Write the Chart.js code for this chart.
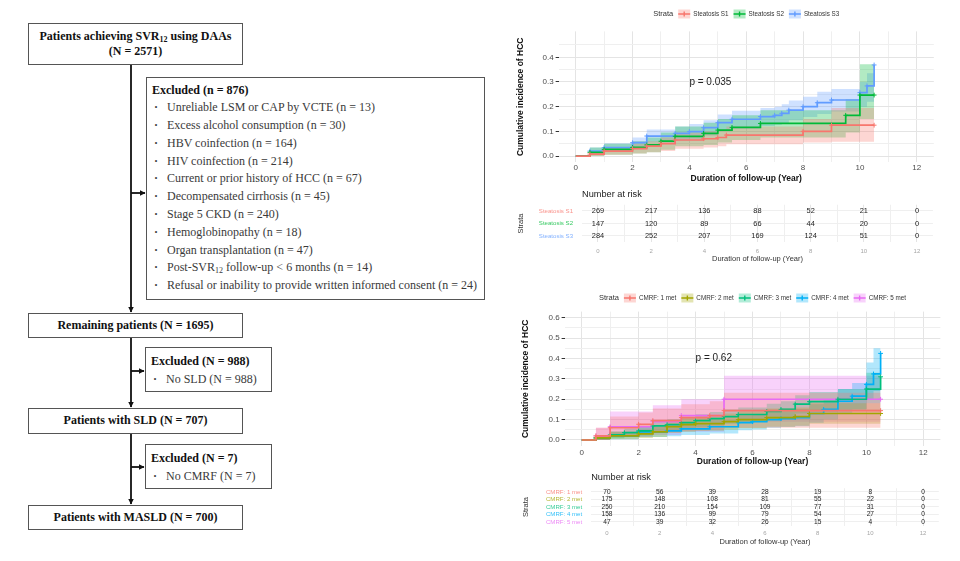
<!DOCTYPE html>
<html>
<head>
<meta charset="utf-8">
<script src="https://cdn.jsdelivr.net/npm/chart.js@4.4.1/dist/chart.umd.min.js"></script>
<style>
body { margin:0; background:#fff; width:960px; height:561px; position:relative; overflow:hidden; }
.box { position:absolute; box-sizing:border-box; border:1.5px solid #555; font-family:"Liberation Serif","Times New Roman",serif; font-size:12px; color:#111; }
.main { text-align:center; font-weight:bold; line-height:22px; }
.excl { padding-left:5px; line-height:17.8px; }
.excl .hd { font-weight:bold; }
.excl .it { position:relative; padding-left:15px; color:#3a3a3a; white-space:nowrap; }
.excl .it:before { content:"\00B7"; position:absolute; left:2px; font-weight:bold; }
sub { font-size:8px; line-height:0; vertical-align:-2px; }
canvas { position:absolute; }
</style>
</head>
<body>

<!-- flow chart -->
<svg style="position:absolute;left:0;top:0" width="510" height="561">
  <defs>
    <marker id="ah" markerWidth="6" markerHeight="6" refX="5.5" refY="3" orient="auto" markerUnits="userSpaceOnUse">
      <path d="M0,0 L6,3 L0,6 z" fill="#111"/>
    </marker>
  </defs>
  <g stroke="#111" stroke-width="1.8">
    <line x1="131" y1="65" x2="131" y2="312" marker-end="url(#ah)"/>
    <line x1="131" y1="193" x2="145" y2="193" marker-end="url(#ah)"/>
    <line x1="131" y1="338" x2="131" y2="407" marker-end="url(#ah)"/>
    <line x1="131" y1="371" x2="144" y2="371" marker-end="url(#ah)"/>
    <line x1="131" y1="434" x2="131" y2="504" marker-end="url(#ah)"/>
    <line x1="131" y1="467" x2="144" y2="467" marker-end="url(#ah)"/>
  </g>
</svg>

<div class="box main" style="left:28px;top:23px;width:215px;height:42px;line-height:15px;padding-top:5px">Patients achieving SVR<sub>12</sub> using DAAs<br>(N = 2571)</div>

<div class="box excl" style="left:146px;top:77px;width:339px;height:223px;padding-top:3.5px">
  <div class="hd">Excluded (n = 876)</div>
  <div class="it">Unreliable LSM or CAP by VCTE (n = 13)</div>
  <div class="it">Excess alcohol consumption (n = 30)</div>
  <div class="it">HBV coinfection (n = 164)</div>
  <div class="it">HIV coinfection (n = 214)</div>
  <div class="it">Current or prior history of HCC (n = 67)</div>
  <div class="it">Decompensated cirrhosis (n = 45)</div>
  <div class="it">Stage 5 CKD (n = 240)</div>
  <div class="it">Hemoglobinopathy (n = 18)</div>
  <div class="it">Organ transplantation (n = 47)</div>
  <div class="it">Post-SVR<sub>12</sub> follow-up &lt; 6 months (n = 14)</div>
  <div class="it">Refusal or inability to provide written informed consent (n = 24)</div>
</div>

<div class="box main" style="left:28px;top:313px;width:215px;height:25px">Remaining patients (N = 1695)</div>

<div class="box excl" style="left:145px;top:347px;width:127px;height:45px;padding-top:3.5px;line-height:18px">
  <div class="hd">Excluded (N = 988)</div>
  <div class="it">No SLD (N = 988)</div>
</div>

<div class="box main" style="left:28px;top:408px;width:215px;height:26px;line-height:23px">Patients with SLD (N = 707)</div>

<div class="box excl" style="left:145px;top:444px;width:127px;height:45px;padding-top:3.8px;line-height:18px">
  <div class="hd">Excluded (N = 7)</div>
  <div class="it">No CMRF (N = 7)</div>
</div>

<div class="box main" style="left:28px;top:505px;width:215px;height:25px">Patients with MASLD (N = 700)</div>

<!-- charts -->
<canvas id="km1" width="440" height="186" style="left:510px;top:0px"></canvas>
<canvas id="risk1" width="440" height="77" style="left:510px;top:188px"></canvas>
<canvas id="km2" width="440" height="184" style="left:510px;top:285px"></canvas>
<canvas id="risk2" width="440" height="79" style="left:510px;top:469px"></canvas>

<script>
var FONT = '"Liberation Sans", Arial, sans-serif';
Chart.defaults.font.family = FONT;

// ---------------- shared axis values ----------------
var xTicks = [0, 2, 4, 6, 8, 10, 12];
var xMinor = [1, 3, 5, 7, 9, 11];
var riskTimes = [0, 2, 4, 6, 8, 10, 12];

// ---------------- steatosis panel ----------------
var steatNames = ['Steatosis S1', 'Steatosis S2', 'Steatosis S3'];
var steatColors = ['#F8766D', '#00BA38', '#619CFF'];
var steatYMajor = [0, 0.1, 0.2, 0.3, 0.4];
var steatYMinor = [0.05, 0.15, 0.25, 0.35, 0.45];

var s1Time = [0, 0.5, 1.0, 2.0, 2.5, 3.0, 3.5, 4.5, 5.0, 5.3, 8.0, 9.0, 10.5];
var s1Est  = [0, 0.008, 0.02, 0.03, 0.04, 0.05, 0.065, 0.07, 0.075, 0.085, 0.1, 0.125, 0.125];
var s1Low  = [0, 0.0, 0.005, 0.01, 0.015, 0.02, 0.03, 0.035, 0.04, 0.048, 0.055, 0.058, 0.054];
var s1High = [0, 0.02, 0.035, 0.05, 0.06, 0.075, 0.095, 0.1, 0.11, 0.12, 0.15, 0.195, 0.195];

var s2Time = [0, 0.5, 1.0, 2.0, 2.5, 3.0, 3.5, 4.5, 5.0, 5.5, 6.5, 9.5, 10.0, 10.5];
var s2Est  = [0, 0.015, 0.027, 0.035, 0.045, 0.06, 0.08, 0.092, 0.105, 0.116, 0.132, 0.165, 0.247, 0.247];
var s2Low  = [0, 0.0, 0.005, 0.01, 0.015, 0.025, 0.04, 0.045, 0.055, 0.065, 0.075, 0.095, 0.15, 0.15];
var s2High = [0, 0.035, 0.05, 0.06, 0.075, 0.095, 0.12, 0.135, 0.15, 0.165, 0.185, 0.23, 0.372, 0.372];

var s3Time = [0, 0.5, 1.0, 2.0, 2.5, 3.5, 4.0, 4.5, 5.0, 5.5, 6.5, 7.0, 7.25, 7.5, 8.0, 8.5, 9.0, 10.0, 10.25, 10.5];
var s3Est  = [0, 0.02, 0.034, 0.054, 0.081, 0.092, 0.099, 0.115, 0.135, 0.149, 0.16, 0.165, 0.173, 0.186, 0.2, 0.216, 0.227, 0.257, 0.284, 0.369];
var s3Low  = [0, 0.008, 0.018, 0.032, 0.055, 0.063, 0.07, 0.083, 0.1, 0.112, 0.122, 0.127, 0.134, 0.145, 0.158, 0.17, 0.18, 0.2, 0.22, 0.26];
var s3High = [0, 0.035, 0.052, 0.075, 0.107, 0.12, 0.13, 0.145, 0.168, 0.183, 0.195, 0.2, 0.21, 0.225, 0.24, 0.26, 0.272, 0.3, 0.335, 0.37];

var steatRisk1 = [269, 217, 136, 88, 52, 21, 0];
var steatRisk2 = [147, 120, 89, 66, 44, 20, 0];
var steatRisk3 = [284, 252, 207, 169, 124, 51, 0];

// ---------------- CMRF panel ----------------
var cmrfNames = ['CMRF: 1 met', 'CMRF: 2 met', 'CMRF: 3 met', 'CMRF: 4 met', 'CMRF: 5 met'];
var cmrfColors = ['#F8766D', '#A3A500', '#00BF7D', '#00B0F6', '#E76BF3'];
var cmrfYMajor = [0, 0.1, 0.2, 0.3, 0.4, 0.5, 0.6];
var cmrfYMinor = [0.05, 0.15, 0.25, 0.35, 0.45, 0.55];

var c1Time = [0, 0.5, 1.0, 2.0, 2.5, 3.5, 4.5, 5.0, 10.5];
var c1Est  = [0, 0.02, 0.06, 0.077, 0.095, 0.11, 0.12, 0.144, 0.144];
var c1Low  = [0, 0.0, 0.015, 0.025, 0.035, 0.045, 0.05, 0.06, 0.045];
var c1High = [0, 0.06, 0.115, 0.135, 0.155, 0.175, 0.19, 0.232, 0.24];

var c2Time = [0, 0.5, 1.0, 2.0, 2.5, 3.0, 3.5, 4.0, 5.0, 5.5, 6.5, 7.5, 8.0, 10.5];
var c2Est  = [0, 0.01, 0.02, 0.03, 0.04, 0.065, 0.075, 0.08, 0.09, 0.1, 0.11, 0.115, 0.13, 0.13];
var c2Low  = [0, 0.0, 0.005, 0.01, 0.015, 0.035, 0.04, 0.045, 0.05, 0.058, 0.065, 0.07, 0.08, 0.08];
var c2High = [0, 0.025, 0.04, 0.05, 0.065, 0.095, 0.11, 0.115, 0.13, 0.14, 0.155, 0.16, 0.18, 0.18];

var c3Time = [0, 0.5, 1.0, 1.5, 2.0, 2.5, 3.0, 3.5, 4.0, 4.5, 5.0, 5.5, 6.5, 7.0, 7.5, 8.0, 9.0, 10.0, 10.5];
var c3Est  = [0, 0.01, 0.025, 0.036, 0.045, 0.069, 0.075, 0.085, 0.095, 0.105, 0.115, 0.125, 0.14, 0.15, 0.176, 0.188, 0.2, 0.25, 0.31];
var c3Low  = [0, 0.0, 0.008, 0.015, 0.022, 0.042, 0.047, 0.055, 0.063, 0.071, 0.08, 0.088, 0.1, 0.108, 0.13, 0.14, 0.15, 0.18, 0.22];
var c3High = [0, 0.022, 0.042, 0.056, 0.067, 0.095, 0.102, 0.114, 0.126, 0.137, 0.15, 0.16, 0.178, 0.19, 0.22, 0.235, 0.25, 0.33, 0.37];

var c4Time = [0, 0.5, 1.0, 2.0, 3.0, 3.5, 4.5, 5.5, 6.0, 6.5, 7.0, 7.5, 8.0, 8.5, 9.0, 9.5, 10.0, 10.25, 10.5];
var c4Est  = [0, 0.01, 0.02, 0.04, 0.045, 0.055, 0.065, 0.085, 0.09, 0.1, 0.105, 0.11, 0.13, 0.15, 0.19, 0.215, 0.273, 0.324, 0.425];
var c4Low  = [0, 0.0, 0.004, 0.015, 0.018, 0.025, 0.032, 0.048, 0.052, 0.06, 0.064, 0.068, 0.083, 0.1, 0.13, 0.15, 0.2, 0.24, 0.3];
var c4High = [0, 0.025, 0.04, 0.065, 0.072, 0.085, 0.098, 0.12, 0.127, 0.14, 0.146, 0.152, 0.175, 0.2, 0.25, 0.28, 0.38, 0.45, 0.45];

var c5Time = [0, 0.5, 1.0, 2.5, 3.5, 5.0, 10.5];
var c5Est  = [0, 0.02, 0.065, 0.09, 0.12, 0.2, 0.2];
var c5Low  = [0, 0.0, 0.015, 0.025, 0.04, 0.09, 0.09];
var c5High = [0, 0.06, 0.14, 0.17, 0.2, 0.315, 0.31];

var cmrfRisk1 = [70, 56, 39, 28, 19, 8, 0];
var cmrfRisk2 = [175, 148, 108, 81, 55, 22, 0];
var cmrfRisk3 = [250, 210, 154, 109, 77, 31, 0];
var cmrfRisk4 = [158, 136, 99, 79, 54, 27, 0];
var cmrfRisk5 = [47, 39, 32, 26, 15, 4, 0];

// ---------------- helpers ----------------
function rgba(hex, a) {
  var n = parseInt(hex.slice(1), 16);
  return 'rgba(' + (n >> 16) + ',' + ((n >> 8) & 255) + ',' + (n & 255) + ',' + a + ')';
}
function pts(xs, ys) {
  return xs.map(function (x, j) { return {x: x, y: ys[j]}; });
}
function allTicks(a, b) {
  return a.concat(b).sort(function (p, q) { return p - q; }).map(function (v) { return {value: v}; });
}

// legend across the top + p value text
var kmDecor = {
  id: 'kmDecor',
  afterDraw: function (chart, args, opts) {
    var ctx = chart.ctx, area = chart.chartArea;
    ctx.save();
    ctx.textBaseline = 'middle';

    ctx.font = '10px ' + FONT;
    ctx.fillStyle = '#222';
    ctx.textAlign = 'left';
    ctx.fillText(opts.pText, chart.scales.x.getPixelForValue(opts.pAt[0]), chart.scales.y.getPixelForValue(opts.pAt[1]));

    var items = chart.data.datasets.filter(function (d) { return d.isEst; });
    ctx.font = '7.5px ' + FONT;
    var titleW = ctx.measureText('Strata').width;
    ctx.font = '6.3px ' + FONT;
    var keyW = 12, gap = 5, kgap = 3;
    var widths = items.map(function (d) { return ctx.measureText(d.label).width; });
    var total = titleW;
    widths.forEach(function (w) { total += gap + keyW + kgap + w; });
    var x = (area.left + area.right) / 2 - total / 2;
    var y = opts.legendY;

    ctx.fillStyle = '#333';
    ctx.font = '7.5px ' + FONT;
    ctx.fillText('Strata', x, y);
    x += titleW;
    ctx.font = '6.3px ' + FONT;
    items.forEach(function (d, i) {
      x += gap;
      ctx.fillStyle = rgba(d.borderColor, 0.3);
      ctx.fillRect(x, y - 4.5, keyW, 9);
      ctx.strokeStyle = d.borderColor;
      ctx.lineWidth = 1.4;
      ctx.beginPath();
      ctx.moveTo(x, y); ctx.lineTo(x + keyW, y);
      ctx.moveTo(x + keyW / 2, y - 2.5); ctx.lineTo(x + keyW / 2, y + 2.5);
      ctx.stroke();
      x += keyW + kgap;
      ctx.fillStyle = '#333';
      ctx.fillText(d.label, x, y);
      x += widths[i];
    });
    ctx.restore();
  }
};

// numbers of the risk table, placed on the points of each row
var riskText = {
  id: 'riskText',
  afterDatasetsDraw: function (chart) {
    var ctx = chart.ctx;
    ctx.save();
    ctx.font = chart.options.plugins.riskText.size + 'px ' + FONT;
    ctx.fillStyle = '#222';
    ctx.textAlign = 'center';
    ctx.textBaseline = 'middle';
    chart.data.datasets.forEach(function (ds, i) {
      chart.getDatasetMeta(i).data.forEach(function (el, j) {
        ctx.fillText(String(ds.counts[j]), el.x, el.y);
      });
    });
    ctx.restore();
  }
};

function xAxis(box, tickOpts, title) {
  return {
    type: 'linear', min: -0.6, max: 12.6,
    afterBuildTicks: function (s) { s.ticks = allTicks(xTicks, xMinor); },
    afterFit: function (s) { s.height = box.xh; },
    ticks: {
      autoSkip: false, maxRotation: 0, padding: box.xtickPad,
      font: {size: tickOpts.size}, color: tickOpts.color,
      callback: function (v) { return xTicks.indexOf(v) >= 0 ? String(v) : ''; }
    },
    grid: {
      drawTicks: false, lineWidth: 1,
      color: function (c) { return xTicks.indexOf(c.tick.value) >= 0 ? '#e4e4e4' : '#efefef'; }
    },
    border: {display: false},
    title: {display: true, text: 'Duration of follow-up (Year)', font: title.font, color: title.color,
            padding: {top: 0, bottom: box.xtp}}
  };
}

function kmChart(id, names, colors, curves, yMajor, yMinor, yMin, yMax, pText, pAt, box) {
  var datasets = [];
  curves.forEach(function (c, i) {
    datasets.push({
      label: names[i], isEst: true,
      data: pts(c.t, c.est), stepped: true,
      borderColor: colors[i], borderWidth: 1.7, fill: false,
      pointStyle: 'cross', pointBorderColor: colors[i], pointBorderWidth: 1,
      pointRadius: function (ctx) { return ctx.dataIndex === 0 ? 0 : 2.4; }
    });
  });
  curves.forEach(function (c, i) {
    datasets.push({
      data: pts(c.t, c.hi), stepped: true, borderColor: 'transparent', borderWidth: 0,
      pointRadius: 0, fill: '+1', backgroundColor: rgba(colors[i], 0.3)
    });
    datasets.push({
      data: pts(c.t, c.lo), stepped: true, borderColor: 'transparent', borderWidth: 0,
      pointRadius: 0, fill: false
    });
  });

  new Chart(document.getElementById(id), {
    type: 'line',
    data: {datasets: datasets},
    plugins: [kmDecor],
    options: {
      responsive: false, animation: false, events: [],
      layout: {padding: {top: box.top, right: box.right, left: 0, bottom: 0}},
      plugins: {
        legend: {display: false}, tooltip: {enabled: false},
        filler: {drawTime: 'beforeDatasetsDraw'},
        kmDecor: {pText: pText, pAt: pAt, legendY: box.legendY}
      },
      scales: {
        x: xAxis(box, {size: 8, color: '#4d4d4d'}, {font: {size: 8.5, weight: 'bold'}, color: '#111'}),
        y: {
          type: 'linear', min: yMin, max: yMax,
          afterBuildTicks: function (s) { s.ticks = allTicks(yMajor, yMinor); },
          afterFit: function (s) { s.width = box.yw; },
          ticks: {
            autoSkip: false, padding: 2, font: {size: 8}, color: '#4d4d4d',
            callback: function (v) { return yMajor.indexOf(v) >= 0 ? v.toFixed(1) : ''; }
          },
          grid: {
            drawTicks: true, tickLength: 3, lineWidth: 1,
            color: function (c) { return yMajor.indexOf(c.tick.value) >= 0 ? '#e4e4e4' : '#efefef'; },
            tickColor: function (c) { return yMajor.indexOf(c.tick.value) >= 0 ? '#333' : 'rgba(0,0,0,0)'; }
          },
          border: {display: false},
          title: {display: true, text: 'Cumulative incidence of HCC', font: {size: 8.5, weight: 'bold'},
                  color: '#111', padding: {top: box.ytp, bottom: 0}}
        }
      }
    }
  });
}

function riskChart(id, names, colors, counts, box) {
  var datasets = counts.map(function (row, i) {
    return {
      data: riskTimes.map(function (t) { return {x: t, y: i}; }),
      counts: row, showLine: false, pointRadius: 0, borderColor: 'transparent'
    };
  });
  new Chart(document.getElementById(id), {
    type: 'line',
    data: {datasets: datasets},
    plugins: [riskText],
    options: {
      responsive: false, animation: false, events: [],
      layout: {padding: {top: 0, right: box.right, left: 0, bottom: 0}},
      plugins: {
        legend: {display: false}, tooltip: {enabled: false},
        riskText: {size: box.numSize},
        title: {display: true, text: 'Number at risk', align: 'start', fullSize: false,
                font: {size: 9.2, weight: 'normal'}, color: '#222',
                padding: {top: box.titleTop, bottom: box.titleBottom}}
      },
      scales: {
        x: xAxis(box, {size: 6, color: '#a6a6a6'}, {font: {size: 7.5}, color: '#333'}),
        y: {
          type: 'linear', reverse: true, min: -0.5, max: names.length - 0.5,
          afterBuildTicks: function (s) { s.ticks = names.map(function (n, i) { return {value: i}; }); },
          afterFit: function (s) { s.width = box.yw; },
          ticks: {
            autoSkip: false, padding: 9, font: {size: 6.1},
            color: function (c) { return rgba(colors[c.index], 0.8); },
            callback: function (v, i) { return names[i]; }
          },
          grid: {drawTicks: false, color: '#efefef'},
          border: {display: false},
          title: {display: true, text: 'Strata', font: {size: 7.5}, color: '#333',
                  padding: {top: box.ytp, bottom: 0}}
        }
      }
    }
  });
}

// ---------------- build ----------------
kmChart('km1', steatNames, steatColors, [
    {t: s1Time, est: s1Est, lo: s1Low, hi: s1High},
    {t: s2Time, est: s2Est, lo: s2Low, hi: s2High},
    {t: s3Time, est: s3Est, lo: s3Low, hi: s3High}
  ], steatYMajor, steatYMinor, -0.025, 0.505, 'p = 0.035', [4, 0.3],
  {yw: 48.65, right: 16.2, top: 31.4, xh: 23.8, xtp: 1.9, ytp: 5.5, xtickPad: 1, legendY: 14});

riskChart('risk1', steatNames, steatColors, [steatRisk1, steatRisk2, steatRisk3],
  {yw: 72.05, right: 17.1, titleTop: 0.5, titleBottom: 5.2, xh: 22.75, xtp: 1.2, ytp: 6.5, xtickPad: 5, numSize: 7.4});

kmChart('km2', cmrfNames, cmrfColors, [
    {t: c1Time, est: c1Est, lo: c1Low, hi: c1High},
    {t: c2Time, est: c2Est, lo: c2Low, hi: c2High},
    {t: c3Time, est: c3Est, lo: c3Low, hi: c3High},
    {t: c4Time, est: c4Est, lo: c4Low, hi: c4High},
    {t: c5Time, est: c5Est, lo: c5Low, hi: c5High}
  ], cmrfYMajor, cmrfYMinor, -0.03, 0.63, 'p = 0.62', [4, 0.4],
  {yw: 54.6, right: 9.6, top: 26.6, xh: 22.9, xtp: 2.2, ytp: 10.6, xtickPad: 1.5, legendY: 13});

riskChart('risk2', cmrfNames, cmrfColors, [cmrfRisk1, cmrfRisk2, cmrfRisk3, cmrfRisk4, cmrfRisk5],
  {yw: 81.2, right: 11.2, titleTop: 2.5, titleBottom: 5.7, xh: 22.25, xtp: 1.8, ytp: 11.5, xtickPad: 4, numSize: 6.6});
</script>
</body>
</html>
